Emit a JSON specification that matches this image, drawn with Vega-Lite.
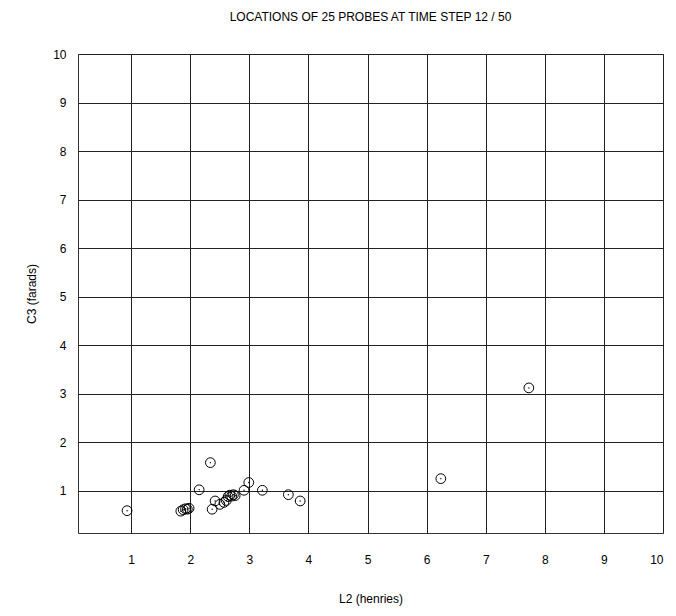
{
  "$schema": "https://vega.github.io/schema/vega-lite/v6.json",
  "width": 585,
  "height": 479,
  "autosize": {"type": "none"},
  "padding": {"left": 78, "top": 54, "right": 13, "bottom": 83},
  "background": "white",
  "title": {
    "text": "LOCATIONS OF 25 PROBES AT TIME STEP 12 / 50",
    "font": "Liberation Sans",
    "fontSize": 12,
    "fontWeight": "normal",
    "color": "#000",
    "offset": 24,
    "anchor": "middle"
  },
  "config": {
    "view": {"stroke": "#333", "strokeWidth": 1},
    "axis": {
      "labelFont": "Liberation Sans",
      "titleFont": "Liberation Sans",
      "labelFontSize": 12,
      "titleFontSize": 12,
      "titleFontWeight": "normal",
      "labelColor": "#000",
      "titleColor": "#000",
      "grid": true,
      "gridColor": "#222",
      "gridOpacity": 1,
      "gridWidth": 1,
      "domain": false,
      "ticks": false
    }
  },
  "data": {
    "values": [
      {"L2": 0.93, "C3": 0.59},
      {"L2": 1.84, "C3": 0.58},
      {"L2": 1.88, "C3": 0.61},
      {"L2": 1.92, "C3": 0.63},
      {"L2": 1.95, "C3": 0.62},
      {"L2": 1.98, "C3": 0.64},
      {"L2": 2.15, "C3": 1.02},
      {"L2": 2.34, "C3": 1.58},
      {"L2": 2.37, "C3": 0.62},
      {"L2": 2.42, "C3": 0.79},
      {"L2": 2.50, "C3": 0.72},
      {"L2": 2.57, "C3": 0.76},
      {"L2": 2.61, "C3": 0.80},
      {"L2": 2.64, "C3": 0.88},
      {"L2": 2.67, "C3": 0.91},
      {"L2": 2.70, "C3": 0.89},
      {"L2": 2.73, "C3": 0.92},
      {"L2": 2.76, "C3": 0.90},
      {"L2": 2.91, "C3": 1.01},
      {"L2": 2.99, "C3": 1.17},
      {"L2": 3.22, "C3": 1.01},
      {"L2": 3.66, "C3": 0.92},
      {"L2": 3.86, "C3": 0.79},
      {"L2": 6.24, "C3": 1.25},
      {"L2": 7.73, "C3": 3.12}
    ]
  },
  "encoding": {
    "x": {
      "field": "L2",
      "type": "quantitative",
      "title": "L2 (henries)",
      "scale": {"domain": [0.1, 10], "nice": false, "zero": false},
      "axis": {"values": [1, 2, 3, 4, 5, 6, 7, 8, 9, 10], "labelPadding": 21, "titlePadding": 28}
    },
    "y": {
      "field": "C3",
      "type": "quantitative",
      "title": "C3 (farads)",
      "scale": {"domain": [0.13, 10], "nice": false, "zero": false},
      "axis": {"values": [1, 2, 3, 4, 5, 6, 7, 8, 9, 10], "labelPadding": 12, "titlePadding": 14}
    }
  },
  "layer": [
    {"mark": {"type": "point", "shape": "circle", "filled": false, "size": 95, "stroke": "#000", "strokeWidth": 1, "opacity": 1}},
    {"mark": {"type": "point", "shape": "circle", "filled": true, "size": 2, "color": "#000", "opacity": 1}}
  ]
}
